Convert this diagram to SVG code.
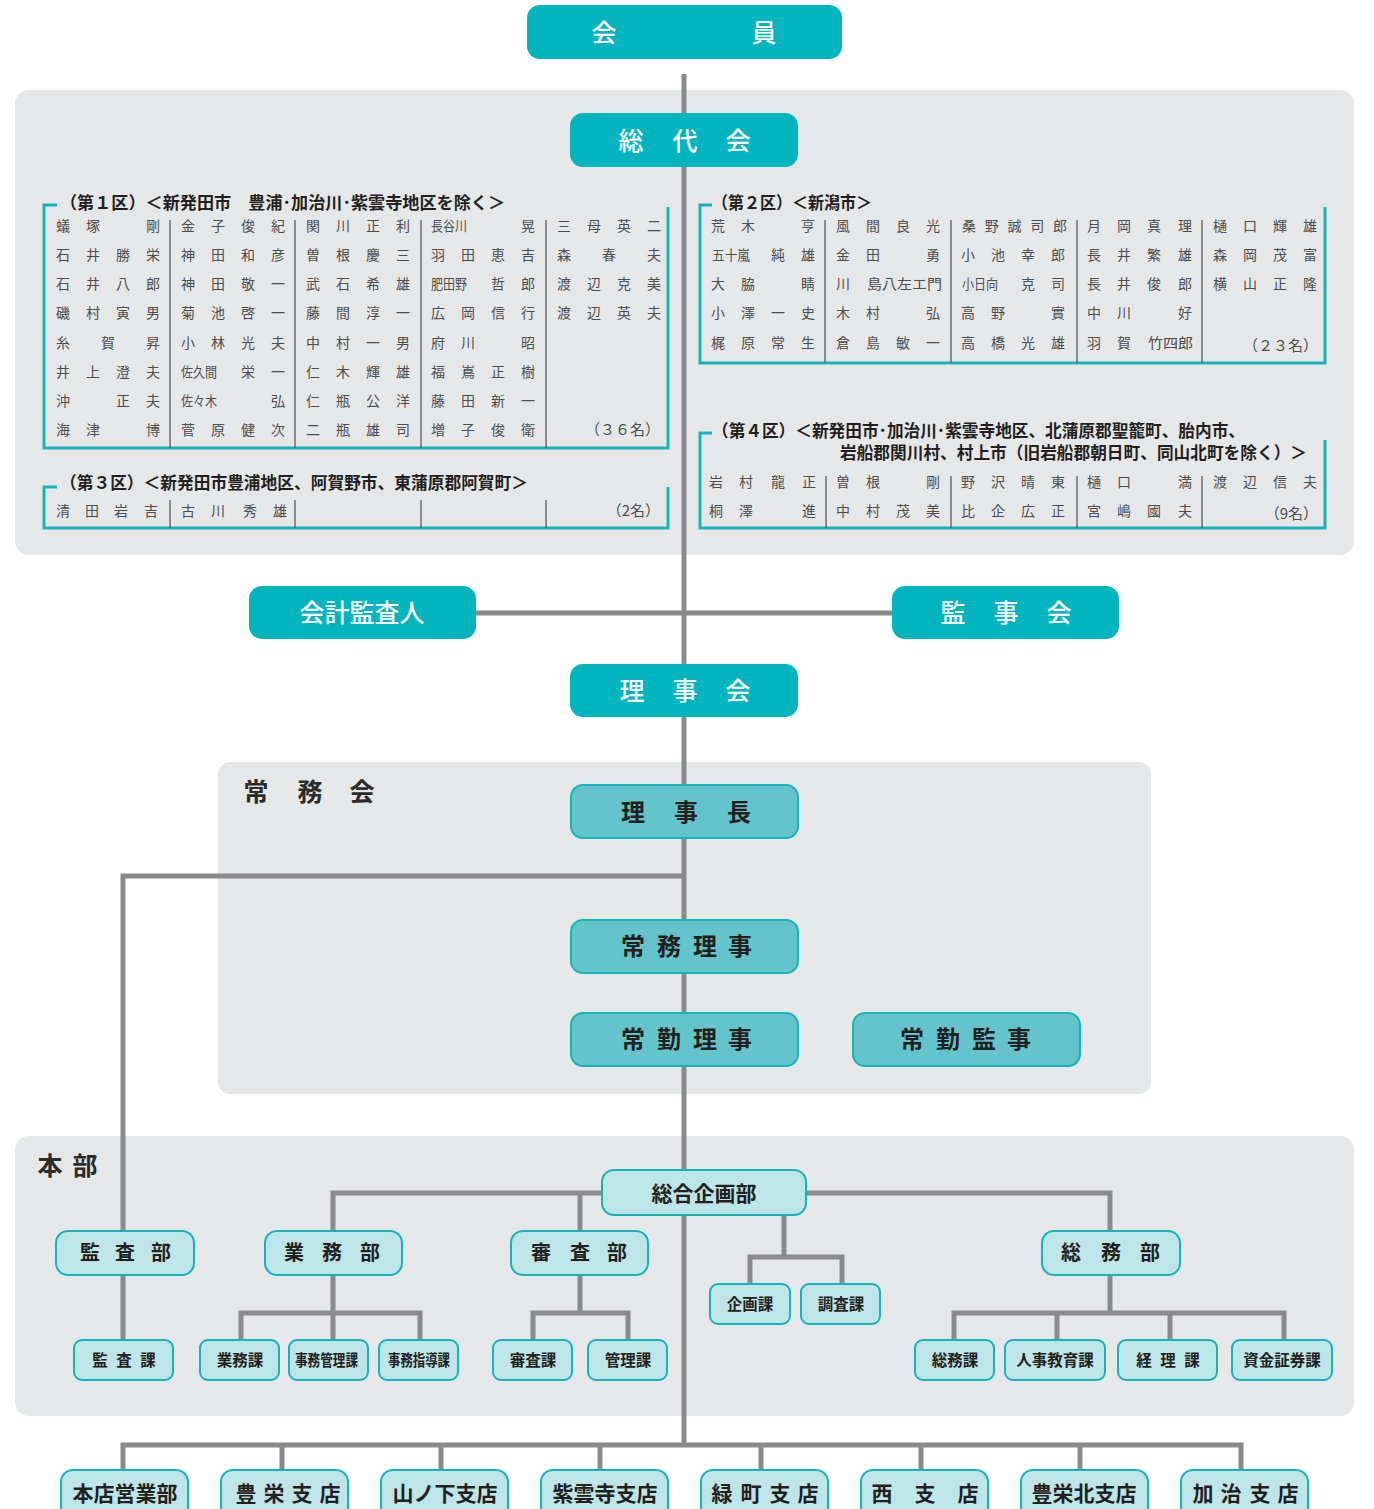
<svg xmlns="http://www.w3.org/2000/svg" width="1374" height="1509" viewBox="0 0 1374 1509">
<style>
text{font-family:"Noto Sans CJK JP","Noto Sans CJK SC",sans-serif;dominant-baseline:central;transform:translateY(-1.5px)}
.panel{fill:#e6e7e9}
.tb{fill:#00b5bd}
.mb{fill:#63c5cb;stroke:#14b4bb;stroke-width:2}
.lb{fill:#bee5e8;stroke:#14b4bb;stroke-width:2}
.wt{fill:#fff;font-size:25px;font-weight:500;text-anchor:middle}
.dt{fill:#231f20;font-weight:700;text-anchor:middle}
.d24{font-size:24px}
.d20{font-size:20px}
.d15{font-size:15.5px}
.d21{font-size:21px}
.nm{fill:#4d4d4d;font-size:14px;text-anchor:middle}
.nmc{fill:#4d4d4d;font-size:14px;text-anchor:start}
.cnt{fill:#4d4d4d;font-size:15px;text-anchor:end}
.ttl{fill:#231f20;font-size:17px;font-weight:700}
.frame{fill:none;stroke:#14b4bb;stroke-width:3}
.sep{fill:none;stroke:#5a5a5a;stroke-width:1.3}
.con{fill:none;stroke:#8a8a8c;stroke-width:5}
.lbl{fill:#2b2b2b;font-size:25px;font-weight:700;text-anchor:middle}
</style>

<!-- panels -->
<rect class="panel" x="15" y="90" width="1339" height="465" rx="14"/>
<rect class="panel" x="218" y="762" width="933" height="332" rx="12"/>
<rect class="panel" x="15" y="1136" width="1339" height="280" rx="14"/>

<g id="connectors">
<path class="con" d="M684 74 V1445"/>
<path class="con" d="M476 613 H892"/>
<path class="con" d="M684 876 H123 V1232"/>
<path class="con" d="M123 1275 V1340"/>
<path class="con" d="M602 1193 H333 V1232"/>
<path class="con" d="M580 1193 V1232"/>
<path class="con" d="M806 1193 H1110 V1232"/>
<path class="con" d="M784 1215 V1257"/>
<path class="con" d="M750 1285 V1257 H842 V1285"/>
<path class="con" d="M333 1275 V1340"/>
<path class="con" d="M241 1340 V1313 H420 V1340"/>
<path class="con" d="M580 1275 V1313"/>
<path class="con" d="M533 1340 V1313 H628 V1340"/>
<path class="con" d="M1110 1275 V1313"/>
<path class="con" d="M954 1340 V1313 H1284 V1340"/>
<path class="con" d="M1057 1313 V1340"/>
<path class="con" d="M1170 1313 V1340"/>
<path class="con" d="M123 1472 V1445 H1241 V1472"/>
<path class="con" d="M282 1445 V1472 M441 1445 V1472 M600 1445 V1472 M761 1445 V1472 M921 1445 V1472 M1080 1445 V1472"/>
</g>

<g id="kaiin">
<rect class="tb" x="527" y="5" width="315" height="54" rx="13"/>
<text class="wt" x="604 764" y="32">会員</text>
</g>

<g id="soudaikai">
<rect class="tb" x="570" y="113" width="228" height="54" rx="13"/>
<text class="wt" x="631 685 738" y="140">総代会</text>
</g>

<g id="district1">
<path class="frame" d="M57 205 H44 V448 H668 V207"/>
<text class="ttl" x="60" y="203" textLength="445" lengthAdjust="spacingAndGlyphs">（第１区）＜新発田市　豊浦･加治川･紫雲寺地区を除く＞</text>
<path class="sep" d="M170 220V448 M295 220V448 M421 220V448 M546 220V448"/>
<text class="nm" x="63 93 153" y="226">蟻塚剛</text>
<text class="nm" x="63 93 123 153" y="255">石井勝栄</text>
<text class="nm" x="63 93 123 153" y="284">石井八郎</text>
<text class="nm" x="63 93 123 153" y="313">磯村寅男</text>
<text class="nm" x="63 108 153" y="343">糸賀昇</text>
<text class="nm" x="63 93 123 153" y="372">井上澄夫</text>
<text class="nm" x="63 123 153" y="401">沖正夫</text>
<text class="nm" x="63 93 153" y="430">海津博</text>
<text class="nm" x="188 218 248 278" y="226">金子俊紀</text>
<text class="nm" x="188 218 248 278" y="255">神田和彦</text>
<text class="nm" x="188 218 248 278" y="284">神田敬一</text>
<text class="nm" x="188 218 248 278" y="313">菊池啓一</text>
<text class="nm" x="188 218 248 278" y="343">小林光夫</text>
<text class="nmc" x="181" y="372" textLength="36" lengthAdjust="spacingAndGlyphs">佐久間</text>
<text class="nm" x="248 278" y="372">栄一</text>
<text class="nmc" x="181" y="401" textLength="36" lengthAdjust="spacingAndGlyphs">佐々木</text>
<text class="nm" x="278" y="401">弘</text>
<text class="nm" x="188 218 248 278" y="430">菅原健次</text>
<text class="nm" x="313 343 373 403" y="226">関川正利</text>
<text class="nm" x="313 343 373 403" y="255">曽根慶三</text>
<text class="nm" x="313 343 373 403" y="284">武石希雄</text>
<text class="nm" x="313 343 373 403" y="313">藤間淳一</text>
<text class="nm" x="313 343 373 403" y="343">中村一男</text>
<text class="nm" x="313 343 373 403" y="372">仁木輝雄</text>
<text class="nm" x="313 343 373 403" y="401">仁瓶公洋</text>
<text class="nm" x="313 343 373 403" y="430">二瓶雄司</text>
<text class="nmc" x="431" y="226" textLength="36" lengthAdjust="spacingAndGlyphs">長谷川</text>
<text class="nm" x="528" y="226">晃</text>
<text class="nm" x="438 468 498 528" y="255">羽田恵吉</text>
<text class="nmc" x="431" y="284" textLength="36" lengthAdjust="spacingAndGlyphs">肥田野</text>
<text class="nm" x="498 528" y="284">哲郎</text>
<text class="nm" x="438 468 498 528" y="313">広岡信行</text>
<text class="nm" x="438 468 528" y="343">府川昭</text>
<text class="nm" x="438 468 498 528" y="372">福嶌正樹</text>
<text class="nm" x="438 468 498 528" y="401">藤田新一</text>
<text class="nm" x="438 468 498 528" y="430">増子俊衛</text>
<text class="nm" x="564 594 624 654" y="226">三母英二</text>
<text class="nm" x="564 609 654" y="255">森春夫</text>
<text class="nm" x="564 594 624 654" y="284">渡辺克美</text>
<text class="nm" x="564 594 624 654" y="313">渡辺英夫</text>
<text class="cnt" x="660" y="430">（３６名）</text>
</g>

<g id="district3">
<path class="frame" d="M57 487 H44 V528 H668 V487"/>
<text class="ttl" x="60" y="483" textLength="468" lengthAdjust="spacingAndGlyphs">（第３区）＜新発田市豊浦地区、阿賀野市、東蒲原郡阿賀町＞</text>
<path class="sep" d="M170 500V528 M295 500V528 M421 500V528 M546 500V528"/>
<text class="nm" x="63 92 121 151" y="511">清田岩吉</text>
<text class="nm" x="188 218 250 280" y="511">古川秀雄</text>
<text class="cnt" x="660" y="511">（2名）</text>
</g>

<g id="district2">
<path class="frame" d="M712 205 H700 V363 H1325 V207"/>
<text class="ttl" x="712" y="203" textLength="160" lengthAdjust="spacingAndGlyphs">（第２区）＜新潟市＞</text>
<path class="sep" d="M825 220V363 M951 220V363 M1077 220V363 M1202 220V363"/>
<text class="nm" x="718 748 808" y="226">荒木亨</text>
<text class="nmc" x="712" y="255" textLength="38" lengthAdjust="spacingAndGlyphs">五十嵐</text>
<text class="nm" x="778 808" y="255">純雄</text>
<text class="nm" x="718 748 808" y="284">大脇睛</text>
<text class="nm" x="718 748 778 808" y="313">小澤一史</text>
<text class="nm" x="718 748 778 808" y="343">梶原常生</text>
<text class="nm" x="843 873 903 933" y="226">風間良光</text>
<text class="nm" x="843 873 933" y="255">金田勇</text>
<text class="nm" x="843" y="284">川</text>
<text class="nmc" x="867" y="284" textLength="75" lengthAdjust="spacingAndGlyphs">島八左エ門</text>
<text class="nm" x="843 873 933" y="313">木村弘</text>
<text class="nm" x="843 873 903 933" y="343">倉島敏一</text>
<text class="nmc" x="962" y="226" textLength="105" lengthAdjust="spacing">桑野誠司郎</text>
<text class="nm" x="968 998 1028 1058" y="255">小池幸郎</text>
<text class="nmc" x="962" y="284" textLength="36" lengthAdjust="spacingAndGlyphs">小日向</text>
<text class="nm" x="1028 1058" y="284">克司</text>
<text class="nm" x="968 998 1058" y="313">高野實</text>
<text class="nm" x="968 998 1028 1058" y="343">高橋光雄</text>
<text class="nm" x="1094 1124 1154 1185" y="226">月岡真理</text>
<text class="nm" x="1094 1124 1154 1185" y="255">長井繁雄</text>
<text class="nm" x="1094 1124 1154 1185" y="284">長井俊郎</text>
<text class="nm" x="1094 1124 1185" y="313">中川好</text>
<text class="nm" x="1094 1124" y="343">羽賀</text>
<text class="nmc" x="1148" y="343" textLength="45" lengthAdjust="spacingAndGlyphs">竹四郎</text>
<text class="nm" x="1220 1250 1280 1310" y="226">樋口輝雄</text>
<text class="nm" x="1220 1250 1280 1310" y="255">森岡茂富</text>
<text class="nm" x="1220 1250 1280 1310" y="284">横山正隆</text>
<text class="cnt" x="1318" y="346">（２３名）</text>
</g>

<g id="district4">
<path class="frame" d="M712 433 H700 V528 H1325 V440"/>
<text class="ttl" x="712" y="431" textLength="533" lengthAdjust="spacingAndGlyphs">（第４区）＜新発田市･加治川･紫雲寺地区、北蒲原郡聖籠町、胎内市、</text>
<text class="ttl" x="840" y="453" textLength="467" lengthAdjust="spacingAndGlyphs">岩船郡関川村、村上市（旧岩船郡朝日町、同山北町を除く）＞</text>
<path class="sep" d="M826 476V528 M951 476V528 M1077 476V528 M1202 476V528"/>
<text class="nm" x="716 746 778 809" y="482">岩村龍正</text>
<text class="nm" x="716 746 809" y="511">桐澤進</text>
<text class="nm" x="843 873 933" y="482">曽根剛</text>
<text class="nm" x="843 873 903 933" y="511">中村茂美</text>
<text class="nm" x="968 998 1028 1058" y="482">野沢晴東</text>
<text class="nm" x="968 998 1028 1058" y="511">比企広正</text>
<text class="nm" x="1094 1124 1185" y="482">樋口満</text>
<text class="nm" x="1094 1124 1154 1185" y="511">宮嶋國夫</text>
<text class="nm" x="1220 1250 1280 1310" y="482">渡辺信夫</text>
<text class="cnt" x="1318" y="514">（9名）</text>
</g>

<g id="kaikei-kansanin">
<rect class="tb" x="249" y="586" width="227" height="53" rx="13"/>
<text class="wt" x="362" y="612">会計監査人</text>
</g>
<g id="kanjikai">
<rect class="tb" x="892" y="586" width="227" height="53" rx="13"/>
<text class="wt" x="953 1006 1059" y="612">監事会</text>
</g>
<g id="rijikai">
<rect class="tb" x="570" y="664" width="228" height="53" rx="13"/>
<text class="wt" x="632 685 738" y="690">理事会</text>
</g>

<g id="joumukai-label">
<text class="lbl" x="256 310 362" y="791">常務会</text>
</g>
<g id="rijichou">
<rect class="mb" x="571" y="785" width="227" height="53" rx="12"/>
<text class="dt d24" x="633 686 739" y="812">理事長</text>
</g>
<g id="joumu-riji">
<rect class="mb" x="571" y="920" width="227" height="53" rx="12"/>
<text class="dt d24" x="633 669 705 740" y="946">常務理事</text>
</g>
<g id="joukin-riji">
<rect class="mb" x="571" y="1013" width="227" height="53" rx="12"/>
<text class="dt d24" x="633 669 705 740" y="1039">常勤理事</text>
</g>
<g id="joukin-kanji">
<rect class="mb" x="853" y="1013" width="227" height="53" rx="12"/>
<text class="dt d24" x="912 948 984 1019" y="1039">常勤監事</text>
</g>

<g id="honbu-label">
<text class="lbl" x="50 85" y="1165">本部</text>
</g>

<g id="sougou-kikakubu">
<rect class="lb" x="602" y="1170" width="204" height="45" rx="12"/>
<text class="dt d21" x="704" y="1193">総合企画部</text>
</g>
<g id="kansabu">
<rect class="lb" x="56" y="1231" width="138" height="44" rx="12"/>
<text class="dt d20" x="90 125 161" y="1253">監査部</text>
</g>
<g id="gyoumubu">
<rect class="lb" x="265" y="1231" width="137" height="44" rx="12"/>
<text class="dt d20" x="294 332 370" y="1253">業務部</text>
</g>
<g id="shinsabu">
<rect class="lb" x="511" y="1231" width="137" height="44" rx="12"/>
<text class="dt d20" x="541 580 617" y="1253">審査部</text>
</g>
<g id="soumubu">
<rect class="lb" x="1042" y="1231" width="138" height="44" rx="12"/>
<text class="dt d20" x="1071 1111 1150" y="1253">総務部</text>
</g>

<g id="kikakuka">
<rect class="lb" x="710" y="1284" width="80" height="40" rx="8"/>
<text class="dt d15" x="750" y="1304">企画課</text>
</g>
<g id="chousaka">
<rect class="lb" x="801" y="1284" width="79" height="40" rx="8"/>
<text class="dt d15" x="841" y="1304">調査課</text>
</g>
<g id="kansaka">
<rect class="lb" x="74" y="1340" width="99" height="40" rx="8"/>
<text class="dt d15" x="100 124 148" y="1360">監査課</text>
</g>
<g id="gyoumuka">
<rect class="lb" x="200" y="1340" width="79" height="40" rx="8"/>
<text class="dt d15" x="240" y="1360">業務課</text>
</g>
<g id="jimukanrika">
<rect class="lb" x="289" y="1340" width="79" height="40" rx="8"/>
<text class="dt d15" x="295" y="1360" style="text-anchor:start" textLength="63" lengthAdjust="spacingAndGlyphs">事務管理課</text>
</g>
<g id="jimushidouka">
<rect class="lb" x="379" y="1340" width="79" height="40" rx="8"/>
<text class="dt d15" x="388" y="1360" style="text-anchor:start" textLength="62" lengthAdjust="spacingAndGlyphs">事務指導課</text>
</g>
<g id="shinsaka">
<rect class="lb" x="493" y="1340" width="79" height="40" rx="8"/>
<text class="dt d15" x="533" y="1360">審査課</text>
</g>
<g id="kanrika">
<rect class="lb" x="588" y="1340" width="79" height="40" rx="8"/>
<text class="dt d15" x="628" y="1360">管理課</text>
</g>
<g id="soumuka">
<rect class="lb" x="915" y="1340" width="79" height="40" rx="8"/>
<text class="dt d15" x="955" y="1360">総務課</text>
</g>
<g id="jinjikyouikuka">
<rect class="lb" x="1005" y="1340" width="100" height="40" rx="8"/>
<text class="dt d15" x="1055" y="1360">人事教育課</text>
</g>
<g id="keirika">
<rect class="lb" x="1118" y="1340" width="99" height="40" rx="8"/>
<text class="dt d15" x="1144 1168 1192" y="1360">経理課</text>
</g>
<g id="shikinshoukenka">
<rect class="lb" x="1232" y="1340" width="100" height="40" rx="8"/>
<text class="dt d15" x="1282" y="1360">資金証券課</text>
</g>

<g id="honten">
<rect class="lb" x="61" y="1470" width="127" height="52" rx="12"/>
<text class="dt d21" x="125" y="1493">本店営業部</text>
</g>
<g id="toyosaka">
<rect class="lb" x="221" y="1470" width="127" height="52" rx="12"/>
<text class="dt d21" x="246 274 302 330" y="1493">豊栄支店</text>
</g>
<g id="yamanoshita">
<rect class="lb" x="381" y="1470" width="127" height="52" rx="12"/>
<text class="dt d21" x="445" y="1493">山ノ下支店</text>
</g>
<g id="shiunji">
<rect class="lb" x="541" y="1470" width="127" height="52" rx="12"/>
<text class="dt d21" x="605" y="1493">紫雲寺支店</text>
</g>
<g id="midorimachi">
<rect class="lb" x="701" y="1470" width="127" height="52" rx="12"/>
<text class="dt d21" x="722 751 780 808" y="1493">緑町支店</text>
</g>
<g id="nishi">
<rect class="lb" x="861" y="1470" width="127" height="52" rx="12"/>
<text class="dt d21" x="882 925 968" y="1493">西支店</text>
</g>
<g id="toyosakakita">
<rect class="lb" x="1021" y="1470" width="127" height="52" rx="12"/>
<text class="dt d21" x="1084" y="1493">豊栄北支店</text>
</g>
<g id="kaji">
<rect class="lb" x="1181" y="1470" width="127" height="52" rx="12"/>
<text class="dt d21" x="1203 1231 1260 1288" y="1493">加治支店</text>
</g>
</svg>
